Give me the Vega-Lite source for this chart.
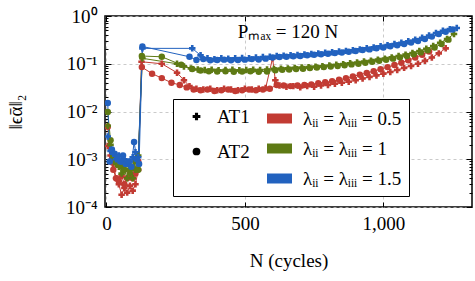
{
"$schema": "https://vega.github.io/schema/vega-lite/v6.json",
"width": 367, "height": 191,
"autosize": {"type": "none"},
"padding": {"left": 105, "top": 16, "right": 3, "bottom": 74},
"config": {
  "view": {"stroke": "black", "strokeWidth": 1.5},
  "font": "Times New Roman",
  "text": {"font": "Times New Roman"},
  "axis": {"labelFont": "Times New Roman", "titleFont": "Times New Roman", "labelColor": "black", "titleColor": "black", "tickColor": "black", "titleFontWeight": "normal", "domain": false},
  "legend": {"labelFont": "Times New Roman", "titleFont": "Times New Roman", "labelColor": "black"}
},
"data": {"values": [
{"test":"AT1","lam":"0.5","N":5,"err":0.0019},{"test":"AT1","lam":"0.5","N":15,"err":0.0012},{"test":"AT1","lam":"0.5","N":25,"err":0.0008},{"test":"AT1","lam":"0.5","N":35,"err":0.0004},{"test":"AT1","lam":"0.5","N":45,"err":0.0003},{"test":"AT1","lam":"0.5","N":55,"err":0.00018},{"test":"AT1","lam":"0.5","N":65,"err":0.00025},{"test":"AT1","lam":"0.5","N":75,"err":0.0002},{"test":"AT1","lam":"0.5","N":85,"err":0.00028},{"test":"AT1","lam":"0.5","N":95,"err":0.00022},{"test":"AT1","lam":"0.5","N":105,"err":0.0003},{"test":"AT1","lam":"0.5","N":115,"err":0.0006},{"test":"AT1","lam":"0.5","N":127,"err":0.11},
{"test":"AT1","lam":"0.5","N":200,"err":0.1},{"test":"AT1","lam":"0.5","N":255,"err":0.065},{"test":"AT1","lam":"0.5","N":280,"err":0.045},{"test":"AT1","lam":"0.5","N":300,"err":0.034},{"test":"AT1","lam":"0.5","N":325,"err":0.03},{"test":"AT1","lam":"0.5","N":350,"err":0.029},{"test":"AT1","lam":"0.5","N":375,"err":0.03},{"test":"AT1","lam":"0.5","N":400,"err":0.028},{"test":"AT1","lam":"0.5","N":425,"err":0.03},{"test":"AT1","lam":"0.5","N":450,"err":0.029},{"test":"AT1","lam":"0.5","N":475,"err":0.028},{"test":"AT1","lam":"0.5","N":500,"err":0.03},{"test":"AT1","lam":"0.5","N":525,"err":0.029},{"test":"AT1","lam":"0.5","N":550,"err":0.03},{"test":"AT1","lam":"0.5","N":575,"err":0.031},{"test":"AT1","lam":"0.5","N":600,"err":0.13},{"test":"AT1","lam":"0.5","N":610,"err":0.045},{"test":"AT1","lam":"0.5","N":625,"err":0.035},{"test":"AT1","lam":"0.5","N":650,"err":0.033},{"test":"AT1","lam":"0.5","N":675,"err":0.034},{"test":"AT1","lam":"0.5","N":700,"err":0.032},{"test":"AT1","lam":"0.5","N":725,"err":0.034},{"test":"AT1","lam":"0.5","N":750,"err":0.033},{"test":"AT1","lam":"0.5","N":775,"err":0.035},{"test":"AT1","lam":"0.5","N":800,"err":0.036},{"test":"AT1","lam":"0.5","N":825,"err":0.038},{"test":"AT1","lam":"0.5","N":850,"err":0.04},{"test":"AT1","lam":"0.5","N":875,"err":0.042},{"test":"AT1","lam":"0.5","N":900,"err":0.045},{"test":"AT1","lam":"0.5","N":925,"err":0.049},{"test":"AT1","lam":"0.5","N":950,"err":0.053},{"test":"AT1","lam":"0.5","N":975,"err":0.057},{"test":"AT1","lam":"0.5","N":1000,"err":0.062},{"test":"AT1","lam":"0.5","N":1025,"err":0.067},{"test":"AT1","lam":"0.5","N":1050,"err":0.074},{"test":"AT1","lam":"0.5","N":1075,"err":0.082},{"test":"AT1","lam":"0.5","N":1100,"err":0.09},{"test":"AT1","lam":"0.5","N":1125,"err":0.1},{"test":"AT1","lam":"0.5","N":1150,"err":0.115},{"test":"AT1","lam":"0.5","N":1175,"err":0.135},{"test":"AT1","lam":"0.5","N":1200,"err":0.165},{"test":"AT1","lam":"0.5","N":1225,"err":0.21},
{"test":"AT2","lam":"0.5","N":5,"err":0.0048},{"test":"AT2","lam":"0.5","N":15,"err":0.0009},{"test":"AT2","lam":"0.5","N":25,"err":0.0006},{"test":"AT2","lam":"0.5","N":35,"err":0.0004},{"test":"AT2","lam":"0.5","N":45,"err":0.00035},{"test":"AT2","lam":"0.5","N":55,"err":0.00045},{"test":"AT2","lam":"0.5","N":65,"err":0.0003},{"test":"AT2","lam":"0.5","N":75,"err":0.0004},{"test":"AT2","lam":"0.5","N":85,"err":0.0005},{"test":"AT2","lam":"0.5","N":95,"err":0.0004},{"test":"AT2","lam":"0.5","N":105,"err":0.0005},{"test":"AT2","lam":"0.5","N":115,"err":0.0009},{"test":"AT2","lam":"0.5","N":128,"err":0.085},
{"test":"AT2","lam":"0.5","N":165,"err":0.062},{"test":"AT2","lam":"0.5","N":200,"err":0.05},{"test":"AT2","lam":"0.5","N":235,"err":0.04},{"test":"AT2","lam":"0.5","N":265,"err":0.036},{"test":"AT2","lam":"0.5","N":290,"err":0.032},{"test":"AT2","lam":"0.5","N":315,"err":0.029},{"test":"AT2","lam":"0.5","N":340,"err":0.028},{"test":"AT2","lam":"0.5","N":365,"err":0.029},{"test":"AT2","lam":"0.5","N":390,"err":0.027},{"test":"AT2","lam":"0.5","N":415,"err":0.028},{"test":"AT2","lam":"0.5","N":440,"err":0.029},{"test":"AT2","lam":"0.5","N":465,"err":0.027},{"test":"AT2","lam":"0.5","N":490,"err":0.028},{"test":"AT2","lam":"0.5","N":515,"err":0.029},{"test":"AT2","lam":"0.5","N":540,"err":0.028},{"test":"AT2","lam":"0.5","N":565,"err":0.029},{"test":"AT2","lam":"0.5","N":590,"err":0.03},{"test":"AT2","lam":"0.5","N":615,"err":0.036},{"test":"AT2","lam":"0.5","N":640,"err":0.035},{"test":"AT2","lam":"0.5","N":665,"err":0.034},{"test":"AT2","lam":"0.5","N":690,"err":0.035},{"test":"AT2","lam":"0.5","N":715,"err":0.036},{"test":"AT2","lam":"0.5","N":740,"err":0.037},{"test":"AT2","lam":"0.5","N":765,"err":0.039},{"test":"AT2","lam":"0.5","N":790,"err":0.041},{"test":"AT2","lam":"0.5","N":815,"err":0.043},{"test":"AT2","lam":"0.5","N":840,"err":0.046},{"test":"AT2","lam":"0.5","N":865,"err":0.05},{"test":"AT2","lam":"0.5","N":890,"err":0.054},{"test":"AT2","lam":"0.5","N":915,"err":0.059},{"test":"AT2","lam":"0.5","N":940,"err":0.064},{"test":"AT2","lam":"0.5","N":965,"err":0.07},{"test":"AT2","lam":"0.5","N":990,"err":0.077},{"test":"AT2","lam":"0.5","N":1015,"err":0.085},{"test":"AT2","lam":"0.5","N":1040,"err":0.094},{"test":"AT2","lam":"0.5","N":1065,"err":0.105},{"test":"AT2","lam":"0.5","N":1090,"err":0.118},{"test":"AT2","lam":"0.5","N":1115,"err":0.135},{"test":"AT2","lam":"0.5","N":1140,"err":0.155},{"test":"AT2","lam":"0.5","N":1165,"err":0.18},
{"test":"AT1","lam":"1","N":5,"err":0.005},{"test":"AT1","lam":"1","N":15,"err":0.002},{"test":"AT1","lam":"1","N":25,"err":0.0012},{"test":"AT1","lam":"1","N":35,"err":0.0008},{"test":"AT1","lam":"1","N":45,"err":0.0007},{"test":"AT1","lam":"1","N":55,"err":0.0005},{"test":"AT1","lam":"1","N":65,"err":0.0006},{"test":"AT1","lam":"1","N":75,"err":0.0004},{"test":"AT1","lam":"1","N":85,"err":0.0005},{"test":"AT1","lam":"1","N":95,"err":0.0004},{"test":"AT1","lam":"1","N":105,"err":0.0006},{"test":"AT1","lam":"1","N":115,"err":0.0012},{"test":"AT1","lam":"1","N":130,"err":0.13},
{"test":"AT1","lam":"1","N":255,"err":0.1},{"test":"AT1","lam":"1","N":280,"err":0.088},{"test":"AT1","lam":"1","N":305,"err":0.08},{"test":"AT1","lam":"1","N":330,"err":0.076},{"test":"AT1","lam":"1","N":355,"err":0.074},{"test":"AT1","lam":"1","N":380,"err":0.075},{"test":"AT1","lam":"1","N":405,"err":0.073},{"test":"AT1","lam":"1","N":430,"err":0.074},{"test":"AT1","lam":"1","N":455,"err":0.075},{"test":"AT1","lam":"1","N":480,"err":0.073},{"test":"AT1","lam":"1","N":505,"err":0.074},{"test":"AT1","lam":"1","N":530,"err":0.075},{"test":"AT1","lam":"1","N":555,"err":0.074},{"test":"AT1","lam":"1","N":580,"err":0.076},{"test":"AT1","lam":"1","N":605,"err":0.078},{"test":"AT1","lam":"1","N":630,"err":0.079},{"test":"AT1","lam":"1","N":655,"err":0.08},{"test":"AT1","lam":"1","N":680,"err":0.082},{"test":"AT1","lam":"1","N":705,"err":0.083},{"test":"AT1","lam":"1","N":730,"err":0.085},{"test":"AT1","lam":"1","N":755,"err":0.087},{"test":"AT1","lam":"1","N":780,"err":0.089},{"test":"AT1","lam":"1","N":805,"err":0.092},{"test":"AT1","lam":"1","N":830,"err":0.095},{"test":"AT1","lam":"1","N":855,"err":0.098},{"test":"AT1","lam":"1","N":880,"err":0.102},{"test":"AT1","lam":"1","N":905,"err":0.106},{"test":"AT1","lam":"1","N":930,"err":0.111},{"test":"AT1","lam":"1","N":955,"err":0.116},{"test":"AT1","lam":"1","N":980,"err":0.122},{"test":"AT1","lam":"1","N":1005,"err":0.128},{"test":"AT1","lam":"1","N":1030,"err":0.136},{"test":"AT1","lam":"1","N":1055,"err":0.145},{"test":"AT1","lam":"1","N":1080,"err":0.155},{"test":"AT1","lam":"1","N":1105,"err":0.168},{"test":"AT1","lam":"1","N":1130,"err":0.185},{"test":"AT1","lam":"1","N":1155,"err":0.205},{"test":"AT1","lam":"1","N":1180,"err":0.235},{"test":"AT1","lam":"1","N":1205,"err":0.275},{"test":"AT1","lam":"1","N":1230,"err":0.33},{"test":"AT1","lam":"1","N":1255,"err":0.42},
{"test":"AT2","lam":"1","N":5,"err":0.0098},{"test":"AT2","lam":"1","N":15,"err":0.0025},{"test":"AT2","lam":"1","N":25,"err":0.0011},{"test":"AT2","lam":"1","N":35,"err":0.0009},{"test":"AT2","lam":"1","N":45,"err":0.0008},{"test":"AT2","lam":"1","N":55,"err":0.0007},{"test":"AT2","lam":"1","N":65,"err":0.0006},{"test":"AT2","lam":"1","N":75,"err":0.0008},{"test":"AT2","lam":"1","N":85,"err":0.0006},{"test":"AT2","lam":"1","N":95,"err":0.0007},{"test":"AT2","lam":"1","N":105,"err":0.0009},{"test":"AT2","lam":"1","N":115,"err":0.0006},{"test":"AT2","lam":"1","N":128,"err":0.145},
{"test":"AT2","lam":"1","N":200,"err":0.14},{"test":"AT2","lam":"1","N":270,"err":0.095},{"test":"AT2","lam":"1","N":310,"err":0.078},{"test":"AT2","lam":"1","N":340,"err":0.072},{"test":"AT2","lam":"1","N":370,"err":0.07},{"test":"AT2","lam":"1","N":400,"err":0.069},{"test":"AT2","lam":"1","N":430,"err":0.07},{"test":"AT2","lam":"1","N":460,"err":0.068},{"test":"AT2","lam":"1","N":490,"err":0.069},{"test":"AT2","lam":"1","N":520,"err":0.07},{"test":"AT2","lam":"1","N":550,"err":0.068},{"test":"AT2","lam":"1","N":580,"err":0.069},{"test":"AT2","lam":"1","N":610,"err":0.073},{"test":"AT2","lam":"1","N":635,"err":0.075},{"test":"AT2","lam":"1","N":660,"err":0.076},{"test":"AT2","lam":"1","N":685,"err":0.078},{"test":"AT2","lam":"1","N":710,"err":0.079},{"test":"AT2","lam":"1","N":735,"err":0.081},{"test":"AT2","lam":"1","N":760,"err":0.083},{"test":"AT2","lam":"1","N":785,"err":0.085},{"test":"AT2","lam":"1","N":810,"err":0.088},{"test":"AT2","lam":"1","N":835,"err":0.09},{"test":"AT2","lam":"1","N":860,"err":0.093},{"test":"AT2","lam":"1","N":885,"err":0.097},{"test":"AT2","lam":"1","N":910,"err":0.1},{"test":"AT2","lam":"1","N":935,"err":0.105},{"test":"AT2","lam":"1","N":960,"err":0.11},{"test":"AT2","lam":"1","N":985,"err":0.115},{"test":"AT2","lam":"1","N":1010,"err":0.121},{"test":"AT2","lam":"1","N":1035,"err":0.128},{"test":"AT2","lam":"1","N":1060,"err":0.136},{"test":"AT2","lam":"1","N":1085,"err":0.146},{"test":"AT2","lam":"1","N":1110,"err":0.158},{"test":"AT2","lam":"1","N":1135,"err":0.173},{"test":"AT2","lam":"1","N":1160,"err":0.192},{"test":"AT2","lam":"1","N":1185,"err":0.218},{"test":"AT2","lam":"1","N":1210,"err":0.26},{"test":"AT2","lam":"1","N":1235,"err":0.32},
{"test":"AT1","lam":"1.5","N":5,"err":0.003},{"test":"AT1","lam":"1.5","N":15,"err":0.0015},{"test":"AT1","lam":"1.5","N":25,"err":0.0013},{"test":"AT1","lam":"1.5","N":35,"err":0.001},{"test":"AT1","lam":"1.5","N":45,"err":0.0012},{"test":"AT1","lam":"1.5","N":55,"err":0.0009},{"test":"AT1","lam":"1.5","N":65,"err":0.001},{"test":"AT1","lam":"1.5","N":75,"err":0.0008},{"test":"AT1","lam":"1.5","N":85,"err":0.0009},{"test":"AT1","lam":"1.5","N":95,"err":0.0011},{"test":"AT1","lam":"1.5","N":105,"err":0.0014},{"test":"AT1","lam":"1.5","N":115,"err":0.0011},{"test":"AT1","lam":"1.5","N":130,"err":0.21},
{"test":"AT1","lam":"1.5","N":310,"err":0.21},{"test":"AT1","lam":"1.5","N":340,"err":0.15},{"test":"AT1","lam":"1.5","N":365,"err":0.13},{"test":"AT1","lam":"1.5","N":390,"err":0.125},{"test":"AT1","lam":"1.5","N":415,"err":0.13},{"test":"AT1","lam":"1.5","N":440,"err":0.128},{"test":"AT1","lam":"1.5","N":465,"err":0.13},{"test":"AT1","lam":"1.5","N":490,"err":0.132},{"test":"AT1","lam":"1.5","N":515,"err":0.13},{"test":"AT1","lam":"1.5","N":540,"err":0.135},{"test":"AT1","lam":"1.5","N":565,"err":0.138},{"test":"AT1","lam":"1.5","N":590,"err":0.14},{"test":"AT1","lam":"1.5","N":615,"err":0.145},{"test":"AT1","lam":"1.5","N":640,"err":0.148},{"test":"AT1","lam":"1.5","N":665,"err":0.15},{"test":"AT1","lam":"1.5","N":690,"err":0.153},{"test":"AT1","lam":"1.5","N":715,"err":0.157},{"test":"AT1","lam":"1.5","N":740,"err":0.16},{"test":"AT1","lam":"1.5","N":765,"err":0.165},{"test":"AT1","lam":"1.5","N":790,"err":0.17},{"test":"AT1","lam":"1.5","N":815,"err":0.175},{"test":"AT1","lam":"1.5","N":840,"err":0.18},{"test":"AT1","lam":"1.5","N":865,"err":0.186},{"test":"AT1","lam":"1.5","N":890,"err":0.192},{"test":"AT1","lam":"1.5","N":915,"err":0.2},{"test":"AT1","lam":"1.5","N":940,"err":0.21},{"test":"AT1","lam":"1.5","N":965,"err":0.22},{"test":"AT1","lam":"1.5","N":990,"err":0.232},{"test":"AT1","lam":"1.5","N":1015,"err":0.245},{"test":"AT1","lam":"1.5","N":1040,"err":0.26},{"test":"AT1","lam":"1.5","N":1065,"err":0.275},{"test":"AT1","lam":"1.5","N":1090,"err":0.295},{"test":"AT1","lam":"1.5","N":1115,"err":0.32},{"test":"AT1","lam":"1.5","N":1140,"err":0.35},{"test":"AT1","lam":"1.5","N":1165,"err":0.39},{"test":"AT1","lam":"1.5","N":1190,"err":0.44},{"test":"AT1","lam":"1.5","N":1215,"err":0.49},{"test":"AT1","lam":"1.5","N":1240,"err":0.53},{"test":"AT1","lam":"1.5","N":1265,"err":0.56},
{"test":"AT2","lam":"1.5","N":5,"err":0.015},{"test":"AT2","lam":"1.5","N":12,"err":0.0009},{"test":"AT2","lam":"1.5","N":20,"err":0.0016},{"test":"AT2","lam":"1.5","N":30,"err":0.0013},{"test":"AT2","lam":"1.5","N":40,"err":0.0011},{"test":"AT2","lam":"1.5","N":50,"err":0.0009},{"test":"AT2","lam":"1.5","N":60,"err":0.0012},{"test":"AT2","lam":"1.5","N":70,"err":0.0008},{"test":"AT2","lam":"1.5","N":80,"err":0.0009},{"test":"AT2","lam":"1.5","N":90,"err":0.0007},{"test":"AT2","lam":"1.5","N":100,"err":0.0023},{"test":"AT2","lam":"1.5","N":110,"err":0.001},{"test":"AT2","lam":"1.5","N":118,"err":0.0008},{"test":"AT2","lam":"1.5","N":130,"err":0.23},
{"test":"AT2","lam":"1.5","N":300,"err":0.14},{"test":"AT2","lam":"1.5","N":325,"err":0.12},{"test":"AT2","lam":"1.5","N":350,"err":0.125},{"test":"AT2","lam":"1.5","N":375,"err":0.118},{"test":"AT2","lam":"1.5","N":400,"err":0.12},{"test":"AT2","lam":"1.5","N":425,"err":0.122},{"test":"AT2","lam":"1.5","N":450,"err":0.118},{"test":"AT2","lam":"1.5","N":475,"err":0.12},{"test":"AT2","lam":"1.5","N":500,"err":0.122},{"test":"AT2","lam":"1.5","N":525,"err":0.125},{"test":"AT2","lam":"1.5","N":550,"err":0.123},{"test":"AT2","lam":"1.5","N":575,"err":0.128},{"test":"AT2","lam":"1.5","N":600,"err":0.135},{"test":"AT2","lam":"1.5","N":625,"err":0.138},{"test":"AT2","lam":"1.5","N":650,"err":0.14},{"test":"AT2","lam":"1.5","N":675,"err":0.143},{"test":"AT2","lam":"1.5","N":700,"err":0.146},{"test":"AT2","lam":"1.5","N":725,"err":0.15},{"test":"AT2","lam":"1.5","N":750,"err":0.154},{"test":"AT2","lam":"1.5","N":775,"err":0.158},{"test":"AT2","lam":"1.5","N":800,"err":0.162},{"test":"AT2","lam":"1.5","N":825,"err":0.167},{"test":"AT2","lam":"1.5","N":850,"err":0.172},{"test":"AT2","lam":"1.5","N":875,"err":0.178},{"test":"AT2","lam":"1.5","N":900,"err":0.185},{"test":"AT2","lam":"1.5","N":925,"err":0.193},{"test":"AT2","lam":"1.5","N":950,"err":0.2},{"test":"AT2","lam":"1.5","N":975,"err":0.21},{"test":"AT2","lam":"1.5","N":1000,"err":0.22},{"test":"AT2","lam":"1.5","N":1025,"err":0.232},{"test":"AT2","lam":"1.5","N":1050,"err":0.245},{"test":"AT2","lam":"1.5","N":1075,"err":0.26},{"test":"AT2","lam":"1.5","N":1100,"err":0.28},{"test":"AT2","lam":"1.5","N":1125,"err":0.3},{"test":"AT2","lam":"1.5","N":1150,"err":0.33},{"test":"AT2","lam":"1.5","N":1175,"err":0.37},{"test":"AT2","lam":"1.5","N":1200,"err":0.42},{"test":"AT2","lam":"1.5","N":1225,"err":0.47},{"test":"AT2","lam":"1.5","N":1250,"err":0.52}
]},
"layer": [
  {
    "mark": {"type": "line", "strokeWidth": 1, "clip": true},
    "encoding": {
      "x": {"field": "N", "type": "quantitative", "scale": {"domain": [-5, 1320], "nice": false, "zero": false},
        "axis": {"orient": "top", "values": [0, 500, 1000], "labels": false, "tickSize": -5, "grid": false, "title": null}},
      "y": {"field": "err", "type": "quantitative", "scale": {"type": "log", "domain": [0.0001, 1], "nice": false},
        "axis": {"orient": "right", "labels": false, "grid": false, "title": null,
          "values": [0.0001,0.0002,0.0003,0.0004,0.0005,0.0006,0.0007,0.0008,0.0009,0.001,0.002,0.003,0.004,0.005,0.006,0.007,0.008,0.009,0.01,0.02,0.03,0.04,0.05,0.06,0.07,0.08,0.09,0.1,0.2,0.3,0.4,0.5,0.6,0.7,0.8,0.9,1],
          "tickSize": {"condition": {"test": "abs(log(datum.value)/LN10 - round(log(datum.value)/LN10)) < 0.001", "value": -6}, "value": -3}}},
      "color": {"field": "lam", "type": "nominal", "scale": {"domain": ["0.5", "1", "1.5"], "range": ["#c23b33", "#5e7a14", "#2262bf"]}},
      "detail": {"field": "test"}
    }
  },
  {
    "mark": {"type": "point", "filled": true, "opacity": 1, "size": 42, "clip": true},
    "encoding": {
      "x": {"field": "N", "type": "quantitative", "scale": {"domain": [-5, 1320], "nice": false, "zero": false},
        "axis": {"orient": "bottom", "values": [0, 500, 1000], "labelExpr": "format(datum.value, ',')", "tickSize": -5, "labelPadding": 12, "labelFontSize": 19,
          "grid": true, "gridDash": [3, 3], "gridColor": "#bdbdbd", "gridWidth": 0.8,
          "title": "N (cycles)", "titleFontSize": 19, "titlePadding": 18}},
      "y": {"field": "err", "type": "quantitative", "scale": {"type": "log", "domain": [0.0001, 1], "nice": false},
        "axis": {"orient": "left", "labelFontSize": 19, "labelPadding": 14,
          "values": [0.0001,0.0002,0.0003,0.0004,0.0005,0.0006,0.0007,0.0008,0.0009,0.001,0.002,0.003,0.004,0.005,0.006,0.007,0.008,0.009,0.01,0.02,0.03,0.04,0.05,0.06,0.07,0.08,0.09,0.1,0.2,0.3,0.4,0.5,0.6,0.7,0.8,0.9,1],
          "labelExpr": "abs(log(datum.value)/LN10 - round(log(datum.value)/LN10)) < 0.001 ? '10' + ['⁰','⁻¹','⁻²','⁻³','⁻⁴'][-round(log(datum.value)/LN10)] : ''",
          "tickSize": {"condition": {"test": "abs(log(datum.value)/LN10 - round(log(datum.value)/LN10)) < 0.001", "value": -6}, "value": -3},
          "grid": true, "gridDash": [3, 3], "gridColor": "#bdbdbd", "gridWidth": 0.8,
          "gridOpacity": {"condition": {"test": "abs(log(datum.value)/LN10 - round(log(datum.value)/LN10)) < 0.001", "value": 1}, "value": 0},
          "title": "‖ϵᾱ‖₂", "titleFontSize": 19, "titleX": -80}},
      "color": {"field": "lam", "type": "nominal",
        "legend": {"orient": "none", "legendX": 68, "legendY": 83, "title": "MMMMM", "titleColor": "transparent", "titleOrient": "left", "titlePadding": 0, "titleFontSize": 19.5, "titleFontWeight": "normal",
          "strokeColor": "black", "fillColor": "white", "padding": 7, "symbolType": "M-1,-0.4H1V0.4H-1Z", "symbolSize": 625, "symbolStrokeWidth": 0, "symbolOpacity": 1,
          "labelFontSize": 19, "labelOffset": 11, "rowPadding": 7, "labelExpr": "'λᵢᵢ = λᵢᵢᵢ = ' + datum.label"}},
      "shape": {"field": "test", "type": "nominal", "scale": {"domain": ["AT1", "AT2"], "range": ["cross", "circle"]},
        "legend": {"orient": "none", "legendX": 82, "legendY": 91, "title": null, "padding": 0, "symbolSize": 60,
          "symbolFillColor": "black", "symbolStrokeColor": "black", "symbolStrokeWidth": 0, "symbolOpacity": 1,
          "labelFontSize": 19, "labelOffset": 11, "rowPadding": 15}}
    }
  },
  {
    "data": {"values": [{"label": "Pₘₐₓ = 120 N", "N": 656, "err": 0.46}]},
    "mark": {"type": "text", "fontSize": 19, "color": "black"},
    "encoding": {
      "x": {"field": "N", "type": "quantitative", "scale": {"domain": [-5, 1320], "nice": false, "zero": false}, "axis": null},
      "y": {"field": "err", "type": "quantitative", "scale": {"type": "log", "domain": [0.0001, 1], "nice": false}, "axis": null},
      "text": {"field": "label"}
    }
  }
],
"resolve": {"scale": {"x": "independent", "y": "independent"}}
}
